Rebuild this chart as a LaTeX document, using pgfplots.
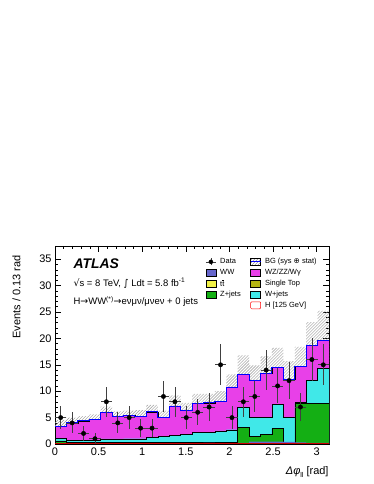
\documentclass[border=0pt]{standalone}
\usepackage{fontspec}
\setmainfont{Liberation Sans}
\newfontfamily\sym{DejaVu Sans}
\usepackage{pgfplots}
\usepackage{pgfplotstable}
\pgfplotsset{compat=1.18}
\usepgfplotslibrary{fillbetween}
\usetikzlibrary{patterns}

\definecolor{cWW}{RGB}{102,102,204}
\definecolor{cTT}{RGB}{240,240,70}
\definecolor{cZ}{RGB}{20,175,20}
\definecolor{cWZ}{RGB}{232,64,232}
\definecolor{cST}{RGB}{180,180,20}
\definecolor{cWj}{RGB}{64,232,232}

% stacked background, cumulative heights, left bin edges (last row closes the histogram)
\pgfplotstableread{
x      tot  up   lo   wj   zj   ww   hh
0.0000 3.4  4.5  2.3  1.1  0.6  0.15 0.1
0.1309 4.0  5.0  3.0  0.7  0.25 0.15 0.1
0.2618 4.4  5.3  3.5  0.7  0.25 0.15 0.1
0.3927 4.7  5.6  3.8  0.75 0.25 0.15 0.1
0.5236 6.0  7.1  4.9  0.95 0.3  0.15 0.1
0.6545 5.3  6.2  4.4  0.95 0.3  0.15 0.1
0.7854 5.4  6.3  4.5  1.0  0.3  0.15 0.1
0.9163 5.2  6.4  4.0  1.0  0.3  0.15 0.1
1.0472 6.1  7.4  4.8  1.3  0.3  0.15 0.1
1.1781 5.0  6.3  3.7  1.5  0.3  0.15 0.1
1.3090 7.2  9.2  5.2  1.7  0.3  0.15 0.1
1.4399 6.4  7.8  5.0  1.8  0.3  0.15 0.1
1.5708 7.7  9.5  5.9  2.2  0.3  0.15 0.1
1.7017 7.8  9.5  6.1  2.2  0.35 0.2  0.1
1.8326 8.1  10.0 6.2  2.5  0.3  0.15 0.1
1.9635 10.8 13.2 8.4  2.7  0.3  0.15 0.1
2.0944 13.2 16.8 9.6  6.9  3.15 0.2  0.1
2.2253 12.1 14.9 9.3  5.05 1.5  0.45 0.1
2.3562 13.4 16.6 10.2 5.05 1.8  0.45 0.1
2.4871 14.5 18.2 10.8 7.55 2.9  0.45 0.1
2.6180 12.3 15.7 8.9  5.05 0.3  0.4  0.1
2.7489 14.7 18.4 11.0 7.9  7.7  0.3  0.1
2.8798 18.7 23.1 14.3 12.0 7.7  0.2  0.1
3.0107 19.6 25.2 14.0 14.3 7.7  0.2  0.1
3.1416 19.6 25.2 14.0 14.3 7.7  0.2  0.1
}\bg

\pgfplotstableread{
x      n  ex     ey
0.0654 5  0.0654 2.24
0.1963 4  0.0654 2.00
0.3272 2  0.0654 1.41
0.4581 1  0.0654 1.00
0.5890 8  0.0654 2.83
0.7199 4  0.0654 2.00
0.8508 5  0.0654 2.24
0.9817 3  0.0654 1.73
1.1126 3  0.0654 1.73
1.2435 9  0.0654 3.00
1.3744 8  0.0654 2.83
1.5053 5  0.0654 2.24
1.6362 6  0.0654 2.45
1.7671 7  0.0654 2.65
1.8980 15 0.0654 3.87
2.0289 5  0.0654 2.24
2.1598 8  0.0654 2.83
2.2907 9  0.0654 3.00
2.4216 14 0.0654 3.74
2.5525 11 0.0654 3.32
2.6834 12 0.0654 3.46
2.8143 7  0.0654 2.65
2.9452 16 0.0654 4.00
3.0761 15 0.0654 3.87
}\data

\pgfplotsset{
  boxleg/.style={legend image code/.code={
    \draw[line width=0.5pt,##1] (0bp,-3.5bp) rectangle (10bp,3.5bp);}},
}

\begin{document}
\begin{tikzpicture}
\path (0,0) rectangle (374bp,484bp);
\begin{axis}[
  at={(55bp,40bp)}, anchor=south west,
  width=274bp, height=198bp, scale only axis,
  xmin=0, xmax=3.1416, ymin=0, ymax=37.5,
  xtick={0,0.5,...,3}, ytick={0,5,...,35},
  minor x tick num=4, minor y tick num=4,
  tick align=inside, major tick length=6bp, minor tick length=3bp,
  tick style={black, line width=0.5pt},
  axis line style={line width=0.6pt},
  /pgf/number format/assume math mode=true,
  ticklabel style={font=\fontsize{11}{13}\selectfont},
  ylabel={Events / 0.13 rad},
  ylabel style={at={(rel axis cs:0,1)}, anchor=south east, yshift=31bp, xshift=-6bp,
    font=\fontsize{11}{13}\selectfont},
  xlabel={{\itshape Δφ}\raisebox{-0.45ex}{\fontsize{7}{8}\selectfont ll} [rad]},
  xlabel style={at={(rel axis cs:1,0)}, anchor=north east, yshift=-19bp, xshift=3bp,
    font=\fontsize{11}{13}\selectfont},
  legend style={at={(0.549,0.946)}, anchor=north west, draw=none, fill=none,
    font=\fontsize{7.5}{9}\selectfont, row sep=0.6bp, inner sep=0pt,
    nodes={inner sep=1.5bp},
    /tikz/every odd column/.append style={column sep=2.5bp},
    /tikz/every even column/.append style={column sep=8bp}},
  legend columns=2, legend cell align=left,
]
\addplot[const plot, fill=cWZ, draw=black, line width=0.4pt, forget plot] table[x=x,y=tot] {\bg} \closedcycle;
\addplot[const plot, fill=cWj, draw=black, line width=0.4pt, forget plot] table[x=x,y=wj] {\bg} \closedcycle;
\addplot[const plot, fill=cZ, draw=black, line width=0.4pt, forget plot] table[x=x,y=zj] {\bg} \closedcycle;
\addplot[const plot, fill=cWW, draw=none, forget plot] table[x=x,y=ww] {\bg} \closedcycle;
\addplot[const plot, draw=red!80!black, line width=1pt, forget plot] table[x=x,y=hh] {\bg};

\addplot[const plot, draw=none, name path=up, forget plot] table[x=x,y=up] {\bg};
\addplot[const plot, draw=none, name path=lo, forget plot] table[x=x,y=lo] {\bg};
\addplot[pattern=north east lines, pattern color=gray!80, forget plot] fill between[of=up and lo];
\addplot[const plot, draw=blue, line width=0.9pt, forget plot] table[x=x,y=tot] {\bg};

\addplot[only marks, mark=*, mark size=2.2bp, black, forget plot,
  error bars/.cd, x dir=both, x explicit, y dir=both, y explicit, error mark=none,
  error bar style={line width=0.6pt, black!75}]
  table[x=x, y=n, x error=ex, y error=ey] {\data};

\node[anchor=west, font=\fontsize{14}{16}\selectfont\bfseries\itshape] at (rel axis cs:0.055,0.91) {ATLAS};
\node[anchor=west, font=\fontsize{9.5}{11}\selectfont] at (rel axis cs:0.055,0.813)
  {{\sym √}s = 8 TeV, {\sym ∫} Ldt = 5.8 fb\textsuperscript{-1}};
\node[anchor=west, font=\fontsize{9.5}{11}\selectfont] at (rel axis cs:0.055,0.719)
  {H{\sym →}WW\textsuperscript{(*)}{\sym →}eνμν/μνeν + 0 jets};

\addlegendimage{legend image code/.code={
  \draw[black!75, line width=0.6pt] (0bp,0bp)--(10bp,0bp) (5bp,-3.5bp)--(5bp,3.5bp);
  \fill[black] (5bp,0bp) circle (2bp);}}
\addlegendentry{Data}
\addlegendimage{legend image code/.code={
  \fill[pattern=north east lines, pattern color=gray] (0bp,-3.5bp) rectangle (10bp,3.5bp);
  \draw[blue, line width=0.8pt] (0bp,0bp)--(10bp,0bp);}}
\addlegendentry{BG (sys {\sym ⊕} stat)}
\addlegendimage{boxleg, fill=cWW, draw=black}
\addlegendentry{WW}
\addlegendimage{boxleg, fill=cWZ, draw=black}
\addlegendentry{WZ/ZZ/Wγ}
\addlegendimage{boxleg, fill=cTT, draw=black}
\addlegendentry{t\ensuremath{\overline{\mbox{t}}}}
\addlegendimage{boxleg, fill=cST, draw=black}
\addlegendentry{Single Top}
\addlegendimage{boxleg, fill=cZ, draw=black}
\addlegendentry{Z+jets}
\addlegendimage{boxleg, fill=cWj, draw=black}
\addlegendentry{W+jets}
\addlegendimage{empty legend}
\addlegendentry{}
\addlegendimage{boxleg, fill=white, draw=red, line width=1.3pt, rounded corners=1pt}
\addlegendentry{H [125 GeV]}
\end{axis}
\end{tikzpicture}
\end{document}
